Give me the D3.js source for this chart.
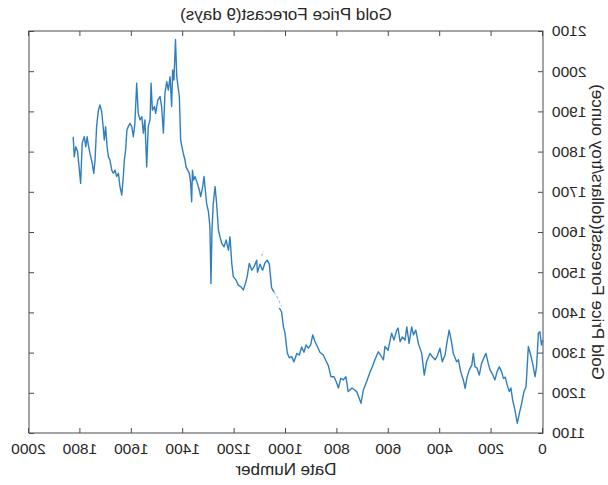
<!DOCTYPE html>
<html>
<head>
<meta charset="utf-8">
<script src="https://cdn.jsdelivr.net/npm/d3@7"></script>
<style>
  body { margin: 0; background: #fff; }
  svg { display: block; }
  text { font-family: "Liberation Sans", Arial, Helvetica, sans-serif; fill: #262626; }
</style>
</head>
<body>
<svg id="chart" width="608" height="485"></svg>
<script>
// Daily gold price by date number (null marks the gap in the record)
const dateNumber = [
  1828,1824,1818,1811,1799,1793,1785,1779,1774,1769,
  1763,1754,1748,1743,1737,1730,1724,1717,1711,1707,
  1702,1696,1691,1685,1678,1672,1665,1659,1652,1646,
  1639,1633,1629,1624,1619,1614,1607,1600,1594,1588,
  1581,1575,1568,1561,1555,1549,1542,1536,1529,1525,
  1520,1512,1507,1499,1490,1484,1477,1471,1464,1458,
  1451,1445,1441,1436,1430,1425,1415,1410,1406,1400,
  1393,1389,1376,1371,1367,1364,1360,1354,1345,1337,
  1332,1324,1319,1309,1302,1296,1292,1288,1283,1276,
  1270,1263,1257,1250,1241,1233,1224,1218,1211,1205,
  1195,1186,1176,1166,1158,1151,1143,1133,1124,1114,
  1111,1101,1091,1082,1073,1065,1056,1047,
  1037,
  1026,1017,1010,1004,995,987,978,969,958,948,
  939,930,922,913,904,896,887,878,868,855,
  844,835,825,813,805,796,787,777,767,758,
  743,725,708,699,686,673,664,654,641,632,
  621,615,603,589,580,569,564,556,547,537,
  530,521,511,504,495,485,472,462,453,440,
  430,420,411,401,392,381,374,365,355,349,
  336,329,320,310,303,296,287,277,271,265,
  257,248,239,230,222,213,206,197,187,179,
  170,161,154,147,139,131,125,118,109,100,
  92,83,74,66,57,48,39,31,25,18,
  12,6,1
];
const goldPrice = [
  1837,1787,1812,1800,1721,1821,1837,1812,1837,1816,
  1796,1771,1746,1779,1862,1903,1916,1899,1858,1829,
  1862,1812,1787,1779,1754,1746,1754,1738,1746,1713,
  1692,1738,1779,1804,1854,1862,1870,1862,1837,1870,
  1970,1895,1879,1887,1846,1879,1762,1862,1879,1970,
  1903,1912,1895,1928,1937,1912,1846,1945,1974,1953,
  1986,1912,2003,1978,2079,1986,1937,1829,1816,1796,
  1779,1762,1746,1721,1675,1754,1729,1738,1721,1704,
  1688,1713,1738,1671,1651,1613,1472,1605,1671,1713,
  1671,1605,1588,1572,1563,1580,1555,1588,1522,1489,
  1481,1468,1464,1456,1472,1489,1522,1505,1514,1530,
  1500,1520,1505,1523,1530,1520,1461,1451,
  null,
  1411,1401,1364,1349,1299,1287,1290,1277,1298,1294,
  1314,1301,1319,1311,1319,1344,1327,1315,1301,1294,
  1279,1267,1240,1240,1228,1212,1236,1232,1240,1203,
  1212,1203,1174,1207,1228,1252,1265,1282,1302,1294,
  1282,1315,1306,1348,1331,1356,1361,1327,1339,1331,
  1364,1323,1364,1344,1356,1323,1298,1244,1277,1298,
  1289,1282,1292,1311,1277,1294,1324,1356,1323,1298,
  1277,1282,1252,1232,1211,1237,1257,1269,1298,1265,
  1262,1244,1273,1287,1298,1273,1257,1247,1232,1252,
  1265,1252,1236,1239,1219,1203,1212,1182,1157,1124,
  1149,1174,1203,1215,1315,1294,1269,1240,1265,1348,
  1352,1319,1331
];
// Forecast pieces drawn as a faint dashed trace
const forecastDate  = [1095,1086,1066,1047,1040,1032,1025,1018];
const forecastPrice = [1540,1553,null,1451,1444,1435,1425,1416];

const xTicks = [0,200,400,600,800,1000,1200,1400,1600,1800,2000];
const yTicks = [1100,1200,1300,1400,1500,1600,1700,1800,1900,2000,2100];
const titleText = "Gold Price Forecast(9 days)";
const xLabelText = "Date Number";
const yLabelText = "Gold Price Forecast(dollars/troy ounce)";

const W = 608, H = 485;
const m = { left: 65, right: 29, top: 31, bottom: 52 };
const axisColor = "#4a4a4a";

const svg = d3.select("#chart");
// the whole figure is laid out normally, then flipped left-to-right
const root = svg.append("g").attr("transform", `translate(${W},0) scale(-1,1)`);

const x = d3.scaleLinear().domain([0, 2000]).range([m.left, W - m.right]);
const y = d3.scaleLinear().domain([1100, 2100]).range([H - m.bottom, m.top]);

function styleAxis(g) {
  g.select(".domain").remove();
  g.selectAll(".tick line").attr("stroke", axisColor).attr("stroke-width", 1);
  g.selectAll(".tick text").style("font-size", "15.5px").attr("fill", "#262626");
}

root.append("g")
  .attr("transform", `translate(0,${H - m.bottom})`)
  .call(d3.axisBottom(x).tickValues(xTicks).tickFormat(d3.format("d"))
        .tickSizeInner(-5).tickSizeOuter(0).tickPadding(10))
  .call(styleAxis);

root.append("g")
  .attr("transform", `translate(0,${m.top})`)
  .call(d3.axisTop(x).tickValues(xTicks).tickFormat("")
        .tickSizeInner(-5).tickSizeOuter(0))
  .call(styleAxis);

root.append("g")
  .attr("transform", `translate(${m.left},0)`)
  .call(d3.axisLeft(y).tickValues(yTicks).tickFormat(d3.format("d"))
        .tickSizeInner(-5).tickSizeOuter(0).tickPadding(9))
  .call(styleAxis);

root.append("g")
  .attr("transform", `translate(${W - m.right},0)`)
  .call(d3.axisRight(y).tickValues(yTicks).tickFormat("")
        .tickSizeInner(-5).tickSizeOuter(0))
  .call(styleAxis);

// axes box
root.append("rect")
  .attr("x", x(0)).attr("y", y(2100))
  .attr("width", x(2000) - x(0)).attr("height", y(1100) - y(2100))
  .attr("fill", "none").attr("stroke", axisColor).attr("stroke-width", 1);

const series = dateNumber.map((d, i) => ({ d, v: goldPrice[i] }));
const forecast = forecastDate.map((d, i) => ({ d, v: forecastPrice[i] }));

const line = d3.line()
  .defined(p => p.v !== null)
  .x(p => x(p.d))
  .y(p => y(p.v));

root.append("path")
  .datum(forecast)
  .attr("d", line)
  .attr("fill", "none")
  .attr("stroke", "#9cc6e6")
  .attr("stroke-width", 1.2)
  .attr("stroke-dasharray", "3,2");

root.append("path")
  .datum(series)
  .attr("d", line)
  .attr("fill", "none")
  .attr("stroke", "#2f7fbf")
  .attr("stroke-width", 1.4)
  .attr("stroke-linejoin", "round");

const cx = (x(0) + x(2000)) / 2;

root.append("text")
  .attr("x", cx).attr("y", 20)
  .attr("text-anchor", "middle")
  .style("font-size", "17px")
  .text(titleText);

root.append("text")
  .attr("x", cx).attr("y", 475)
  .attr("text-anchor", "middle")
  .style("font-size", "17px")
  .text(xLabelText);

root.append("text")
  .attr("transform", `translate(11,${(y(1100) + y(2100)) / 2}) rotate(-90)`)
  .attr("text-anchor", "middle")
  .attr("dominant-baseline", "central")
  .style("font-size", "17px")
  .text(yLabelText);
</script>
</body>
</html>
